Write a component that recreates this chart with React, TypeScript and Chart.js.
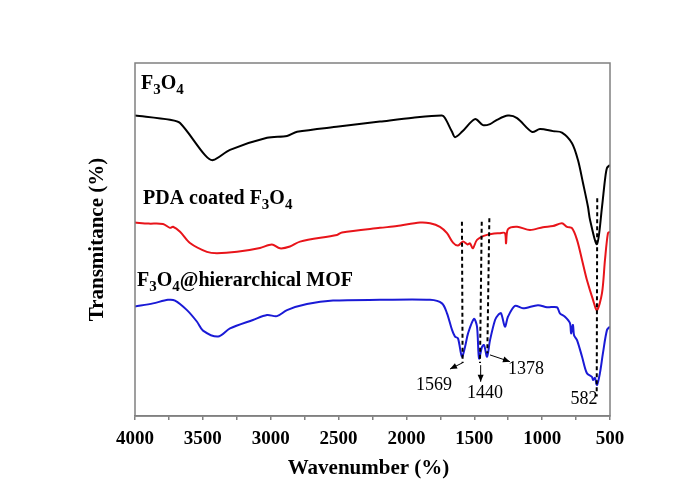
import React, { useEffect, useRef } from "react";
import { Chart, registerables } from "chart.js";

Chart.register(...registerables);

// Wavenumber (cm-1) and transmittance (arb. %)
const blackWave = [4000, 3742, 3668, 3484, 3425, 3300, 3027, 2880, 2806, 2500, 2195, 1952, 1738, 1716, 1664, 1642, 1591, 1495, 1436, 1384, 1333, 1252, 1185, 1075, 1016, 920, 854, 780, 736, 699, 662, 647, 596, 559, 537, 522, 500];
const blackT = [85.1, 83.9, 83.0, 73.9, 72.5, 75.4, 78.8, 79.3, 80.5, 82.0, 83.4, 84.5, 85.1, 84.4, 80.5, 79.0, 80.5, 84.1, 82.4, 82.7, 83.9, 85.1, 84.4, 80.5, 81.3, 80.7, 80.3, 77.3, 72.5, 66.0, 59.2, 55.5, 48.7, 59.2, 66.9, 70.3, 71.1];

const redWave = [4000, 3900, 3794, 3742, 3720, 3668, 3595, 3470, 3396, 3248, 3079, 2991, 2932, 2858, 2784, 2512, 2475, 2195, 2070, 1900, 1826, 1753, 1701, 1657, 1620, 1583, 1550, 1532, 1510, 1480, 1406, 1311, 1274, 1266, 1252, 1185, 1090, 994, 920, 854, 817, 780, 743, 706, 670, 625, 596, 559, 537, 515, 500];
const redT = [54.8, 54.5, 54.4, 53.3, 53.6, 52.2, 49.0, 46.5, 46.1, 46.5, 47.6, 48.6, 47.5, 48.0, 49.4, 51.3, 52.0, 53.3, 53.8, 54.8, 54.6, 53.6, 51.8, 49.1, 48.3, 49.4, 48.6, 48.9, 47.5, 49.9, 51.3, 51.8, 51.8, 48.9, 52.9, 53.6, 52.7, 53.5, 53.8, 54.6, 53.6, 53.2, 49.9, 44.2, 38.5, 32.9, 30.0, 34.8, 44.2, 51.8, 52.2];

const blueWave = [4000, 3867, 3757, 3705, 3617, 3543, 3499, 3388, 3300, 3131, 3027, 2954, 2880, 2733, 2541, 2195, 1826, 1738, 1701, 1664, 1642, 1620, 1591, 1568, 1546, 1502, 1480, 1465, 1443, 1428, 1406, 1384, 1347, 1325, 1303, 1274, 1252, 1200, 1141, 1031, 964, 891, 869, 832, 795, 787, 773, 765, 743, 706, 670, 633, 625, 611, 596, 574, 552, 522, 500];
const blueT = [31.0, 31.9, 32.9, 32.7, 30.0, 26.7, 24.2, 22.5, 24.8, 27.2, 28.6, 28.3, 30.0, 31.7, 32.7, 32.9, 32.9, 31.9, 29.1, 24.4, 22.5, 22.0, 16.8, 19.6, 23.4, 27.5, 25.3, 16.3, 19.6, 20.1, 16.8, 21.5, 27.2, 28.6, 29.1, 25.3, 28.1, 31.2, 30.5, 31.4, 30.8, 30.8, 29.1, 28.1, 26.3, 23.4, 25.8, 22.9, 21.5, 16.8, 12.1, 11.1, 10.2, 10.8, 8.8, 12.2, 17.8, 24.4, 25.3];

const xTickLabels = ["4000", "3500", "3000", "2500", "2000", "1500", "1000", "500"];

// Dashed guide lines: [topWave, topT, bottomWave, bottomT]
const guideLines = [
  [1591, 55.0, 1586, 15.0],
  [1445, 55.0, 1458, 15.0],
  [1389, 56.0, 1404, 17.8],
  [594, 61.7, 598, 5.5],
];
// Arrows: [fromWave, fromT, toWave, toT]
const arrows = [
  [1585, 15.1, 1679, 13.3],
  [1453, 14.4, 1453, 9.7],
  [1384, 17.3, 1237, 15.4],
];
const peakLabels = ["1569", "1440", "1378", "582"];
const peakLabelWave = [1797, 1421, 1119, 692];
const peakLabelT = [8.8, 6.4, 13.3, 4.8];

// Curve names, as [text, isSubscript] parts
const curveNames = [
  [["F", false], ["3", true], ["O", false], ["4", true]],
  [["PDA coated F", false], ["3", true], ["O", false], ["4", true]],
  [["F", false], ["3", true], ["O", false], ["4", true], ["@hierarchical MOF", false]],
];
const curveNameWave = [3956, 3941, 3985];
const curveNameT = [92.6, 60.1, 36.8];

const SERIF = "'Liberation Serif', 'Times New Roman', serif";

const toPts = (w: number[], t: number[]) => w.map((x, i) => ({ x, y: t[i] }));

export default function App() {
  const ref = useRef<HTMLCanvasElement | null>(null);

  useEffect(() => {
    if (!ref.current) return;
    const overlay = {
      id: "overlay",
      afterDraw(chart: any) {
        const ctx = chart.ctx;
        const xs = chart.scales.x;
        const ys = chart.scales.y;
        const a = chart.chartArea;
        ctx.save();
        // frame
        ctx.strokeStyle = "#808080";
        ctx.lineWidth = 1.5;
        ctx.strokeRect(a.left, a.top, a.right - a.left, a.bottom - a.top);

        // dashed guides
        ctx.strokeStyle = "#000";
        ctx.lineWidth = 2;
        ctx.setLineDash([4, 3]);
        guideLines.forEach((g) => {
          ctx.beginPath();
          ctx.moveTo(xs.getPixelForValue(g[0]), ys.getPixelForValue(g[1]));
          ctx.lineTo(xs.getPixelForValue(g[2]), ys.getPixelForValue(g[3]));
          ctx.stroke();
        });
        ctx.setLineDash([]);

        // arrows
        ctx.lineWidth = 1;
        ctx.fillStyle = "#000";
        arrows.forEach((ar) => {
          const x1 = xs.getPixelForValue(ar[0]);
          const y1 = ys.getPixelForValue(ar[1]);
          const x2 = xs.getPixelForValue(ar[2]);
          const y2 = ys.getPixelForValue(ar[3]);
          ctx.beginPath();
          ctx.moveTo(x1, y1);
          ctx.lineTo(x2, y2);
          ctx.stroke();
          const ang = Math.atan2(y2 - y1, x2 - x1);
          const L = 7, W = 3;
          ctx.beginPath();
          ctx.moveTo(x2, y2);
          ctx.lineTo(x2 - L * Math.cos(ang) + W * Math.sin(ang), y2 - L * Math.sin(ang) - W * Math.cos(ang));
          ctx.lineTo(x2 - L * Math.cos(ang) - W * Math.sin(ang), y2 - L * Math.sin(ang) + W * Math.cos(ang));
          ctx.closePath();
          ctx.fill();
        });

        // peak labels
        ctx.font = `18px ${SERIF}`;
        ctx.textAlign = "center";
        ctx.textBaseline = "middle";
        peakLabels.forEach((t, i) => {
          ctx.fillText(t, xs.getPixelForValue(peakLabelWave[i]), ys.getPixelForValue(peakLabelT[i]));
        });

        // curve names with subscripts
        ctx.textAlign = "left";
        ctx.textBaseline = "alphabetic";
        curveNames.forEach((parts: any[], i) => {
          let x = xs.getPixelForValue(curveNameWave[i]);
          const y = ys.getPixelForValue(curveNameT[i]);
          parts.forEach(([txt, sub]) => {
            ctx.font = sub ? `bold 15px ${SERIF}` : `bold 20px ${SERIF}`;
            ctx.fillText(txt, x, sub ? y + 5 : y);
            x += ctx.measureText(txt).width;
          });
        });

        // axis titles
        ctx.font = `bold 21px ${SERIF}`;
        ctx.textAlign = "center";
        ctx.textBaseline = "middle";
        ctx.fillText("Wavenumber (%)", (a.left + a.right) / 2 - 4, 469);
        ctx.translate(98, (a.top + a.bottom) / 2);
        ctx.rotate(-Math.PI / 2);
        ctx.fillText("Transmitance (%)", 0, 0);
        ctx.restore();
      },
    };

    const chart = new Chart(ref.current, {
      type: "line",
      data: {
        datasets: [
          { data: toPts(blackWave, blackT), borderColor: "#000000", borderWidth: 2, pointRadius: 0, tension: 0.3 },
          { data: toPts(redWave, redT), borderColor: "#e8141a", borderWidth: 2, pointRadius: 0, tension: 0.3 },
          { data: toPts(blueWave, blueT), borderColor: "#1a1ad6", borderWidth: 2, pointRadius: 0, tension: 0.3 },
        ],
      },
      options: {
        responsive: false,
        animation: false,
        events: [],
        layout: { padding: { left: 135, top: 63, right: 84, bottom: 0 } },
        plugins: { legend: { display: false }, tooltip: { enabled: false } },
        scales: {
          x: {
            type: "linear",
            reverse: true,
            min: 500,
            max: 4000,
            afterFit: (s: any) => { s.height = 72; },
            ticks: {
              stepSize: 250,
              autoSkip: false,
              maxRotation: 0,
              padding: 8,
              color: "#000",
              font: { family: SERIF, size: 19, weight: "bold" },
              callback: (v: any) => {
                const s = String(v);
                return xTickLabels.includes(s) ? s : "";
              },
            },
            grid: { display: true, drawOnChartArea: false, drawTicks: true, tickLength: 4, color: "#808080", lineWidth: 1.5 },
            border: { display: true, color: "#808080", width: 1.5 },
          },
          y: { display: false, min: 0, max: 100 },
        },
      },
      plugins: [overlay],
    } as any);
    return () => chart.destroy();
  }, []);

  return (
    <div style={{ position: "absolute", left: 0, top: 0, width: 694, height: 488, background: "#fff" }}>
      <canvas ref={ref} width={694} height={488} style={{ display: "block" }} />
    </div>
  );
}
